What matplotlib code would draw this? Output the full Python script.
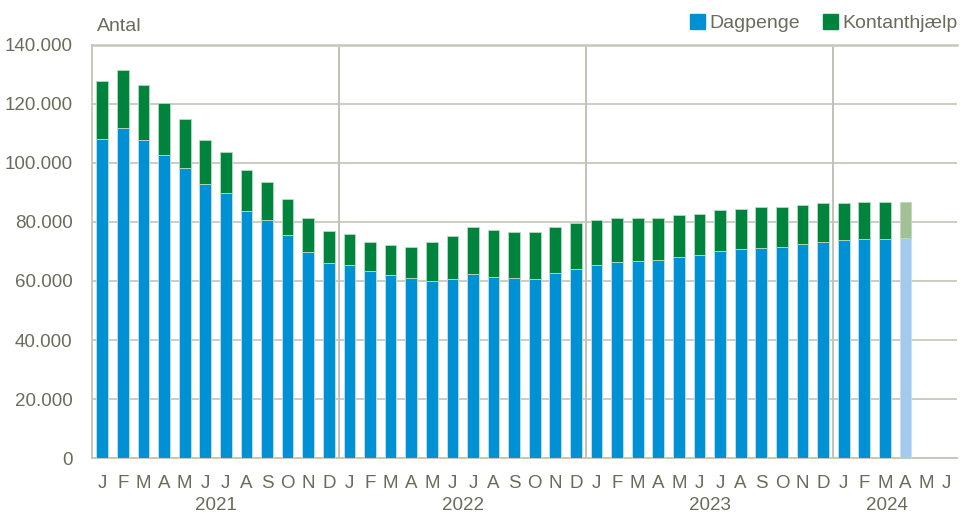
import numpy as np
import matplotlib
matplotlib.use('Agg')
import matplotlib.pyplot as plt
from matplotlib.patches import Patch
from matplotlib.ticker import FuncFormatter

plt.rcParams['font.family'] = ['Liberation Sans Narrow', 'Liberation Sans', 'DejaVu Sans']

# values (number of persons), Jan 2021 - Apr 2024
dagpenge = [108100, 111900, 107800, 102700, 98300, 92900, 89800, 83700, 80700, 75600, 69800, 66100,
            65300, 63300, 62000, 60900, 60100, 60600, 62300, 61400, 60900, 60700, 62600, 64200,
            65300, 66300, 66800, 67100, 68100, 68900, 70300, 70800, 71100, 71500, 72400, 73300,
            73800, 74200, 74300, 74700]
kontanthjaelp = [19700, 19600, 18600, 17600, 16600, 14900, 13900, 13900, 12900, 12200, 11600, 10900,
                 10500, 10000, 10100, 10700, 13000, 14700, 15900, 16000, 15700, 15900, 15700, 15500,
                 15400, 15200, 14400, 14400, 14300, 13900, 13700, 13600, 13900, 13700, 13500, 13100,
                 12700, 12600, 12600, 12200]
month_labels = list('JFMAMJJASOND') * 3 + list('JFMAMJ')
years = ['2021', '2022', '2023', '2024']
year_pos = [5.5, 17.5, 29.5, 38.1]

txt = '#6b6b5c'
grid = '#c4c4b8'
blue, green = '#0090d4', '#00843d'
blue_l, green_l = '#a4c9ec', '#a3c194'

fig = plt.figure(figsize=(9.64, 5.17), dpi=100)
ax = fig.add_axes([0.0954, 0.1141, 0.8973, 0.7989])

x = np.arange(len(dagpenge))
bc = [blue] * (len(x) - 1) + [blue_l]
gc = [green] * (len(x) - 1) + [green_l]
ax.bar(x, dagpenge, width=0.57, color=bc, edgecolor='#bfe3f3', linewidth=0.6, zorder=3)
ax.bar(x, kontanthjaelp, bottom=dagpenge, width=0.57, color=gc, edgecolor='#b5dcc2', linewidth=0.6, zorder=3)

ax.set_xlim(-0.5, len(month_labels) - 0.5)
ax.set_ylim(0, 140000)
ax.set_yticks(np.arange(0, 140001, 20000))
ax.yaxis.set_major_formatter(FuncFormatter(lambda v, p: f'{int(v):,}'.replace(',', '.')))
ax.set_xticks(np.arange(len(month_labels)))
ax.set_xticklabels(month_labels)
ax.tick_params(axis='both', length=0, labelsize=13.5, colors=txt)
ax.tick_params(axis='y', pad=14)
ax.tick_params(axis='x', pad=12)

ax.grid(axis='y', color=grid, linewidth=1.2, zorder=0)
for b in [11.5, 23.5, 35.5]:
    ax.axvline(b, color='#b0b0a4', linewidth=1.1, zorder=1)
for s in ['top', 'right']:
    ax.spines[s].set_visible(False)
for s in ['left', 'bottom']:
    ax.spines[s].set_color(grid)
    ax.spines[s].set_linewidth(1.3)
ax.axhline(140000, color='#d0d0c6', linewidth=2, zorder=1, clip_on=False)

for yr, p in zip(years, year_pos):
    ax.text(p, -0.115, yr, transform=ax.get_xaxis_transform(), ha='center', va='center',
            fontsize=13.5, color=txt)

fig.text(0.101, 0.948, 'Antal', fontsize=14, color=txt, va='center')

handles = [Patch(color=blue), Patch(color=green)]
fig.legend(handles, ['Dagpenge', 'Kontanthjælp'], loc='center right', bbox_to_anchor=(1.012, 0.955),
           ncol=2, frameon=False, fontsize=14, labelcolor=txt, handlelength=0.75, handleheight=0.75,
           handletextpad=0.25, columnspacing=1.2)

fig.savefig('out.png', dpi=100)
